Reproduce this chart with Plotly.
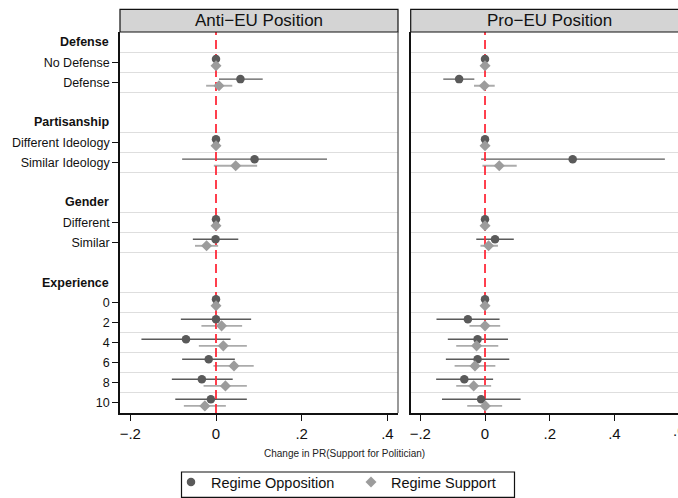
import plotly.graph_objects as go

# ---------------- data ----------------
groups = ["Defense", "Partisanship", "Gender", "Experience"]
items = [["No Defense", "Defense"],
         ["Different Ideology", "Similar Ideology"],
         ["Different", "Similar"],
         ["0", "2", "4", "6", "8", "10"]]

panels = ["Anti\u2212EU Position", "Pro\u2212EU Position"]
series = ["Regime Opposition", "Regime Support"]

# Anti-EU position
anti_opp_est = [0, 0.057, 0, 0.090, 0, -0.001, 0, 0.000, -0.070, -0.017, -0.033, -0.012]
anti_opp_lo  = [0, 0.007, 0, -0.079, 0, -0.054, 0, -0.082, -0.174, -0.079, -0.103, -0.095]
anti_opp_hi  = [0, 0.109, 0, 0.259, 0, 0.052, 0, 0.082, 0.034, 0.044, 0.039, 0.072]
anti_sup_est = [0, 0.007, 0, 0.046, 0, -0.022, 0, 0.013, 0.017, 0.042, 0.022, -0.026]
anti_sup_lo  = [0, -0.023, 0, -0.005, 0, -0.049, 0, -0.034, -0.040, -0.006, -0.029, -0.075]
anti_sup_hi  = [0, 0.038, 0, 0.096, 0, 0.005, 0, 0.061, 0.072, 0.088, 0.072, 0.023]

# Pro-EU position
pro_opp_est = [0, -0.080, 0, 0.271, 0, 0.031, 0, -0.053, -0.023, -0.023, -0.064, -0.012]
pro_opp_lo  = [0, -0.129, 0, -0.012, 0, -0.027, 0, -0.150, -0.115, -0.121, -0.151, -0.133]
pro_opp_hi  = [0, -0.033, 0, 0.556, 0, 0.089, 0, 0.045, 0.071, 0.075, 0.025, 0.110]
pro_sup_est = [0, -0.002, 0, 0.044, 0, 0.011, 0, 0.000, -0.026, -0.031, -0.035, 0.001]
pro_sup_lo  = [0, -0.034, 0, -0.008, 0, -0.014, 0, -0.048, -0.089, -0.094, -0.089, -0.055]
pro_sup_hi  = [0, 0.030, 0, 0.098, 0, 0.040, 0, 0.047, 0.041, 0.032, 0.019, 0.053]

x_tickvals = [-0.2, 0, 0.2, 0.4]
x_ticktext = ["\u2212.2", "0", ".2", ".4"]

# ---------------- layout helpers ----------------
W, H = 678, 498
ML, MT, MB = 0, 32, 85
PLOT_H = H - MT - MB
FONT = "Liberation Sans, Arial, Helvetica, sans-serif"

OPP_COL = "#5a5a5a"
SUP_COL = "#9c9c9c"
SUP_CI = "#ababab"
RED = "#ff2a3a"

# row layout: header row, item rows, blank row
header_rows, rows, labels, grid_y = [], [], [], []
r = 0
for g, its in zip(groups, items):
    header_rows.append(r)
    r += 1
    first = r
    for it in its:
        rows.append(r)
        labels.append(it)
        r += 1
    last = r - 1
    grid_y += [k + 0.5 for k in range(first - 1, last + 1)]
    r += 1
YR = [rows[-1] + 0.52, -0.52]

off = 0.165
y_opp = [v - off for v in rows]
y_sup = [v + off for v in rows]

dom1 = [120 / W, 398 / W]
dom2 = [410.7 / W, 1.0]
rng1 = [-0.224, 0.4247]
rng2 = [-0.2297, -0.2297 + (W - 410.7) / 323.5]

data = [
    (anti_opp_est, anti_opp_lo, anti_opp_hi, anti_sup_est, anti_sup_lo, anti_sup_hi),
    (pro_opp_est, pro_opp_lo, pro_opp_hi, pro_sup_est, pro_sup_lo, pro_sup_hi),
]

fig = go.Figure()
for p, (oe, ol, oh, se, sl, sh) in enumerate(data):
    xa = "x" if p == 0 else "x2"
    ya = "y" if p == 0 else "y2"
    # CI lines
    fig.add_trace(go.Scatter(
        x=oe, y=y_opp, xaxis=xa, yaxis=ya, mode="markers",
        marker=dict(size=2, opacity=0), showlegend=False, hoverinfo="skip",
        error_x=dict(type="data", symmetric=False,
                     array=[h - e for h, e in zip(oh, oe)],
                     arrayminus=[e - l for e, l in zip(oe, ol)],
                     width=0, thickness=1.4, color=OPP_COL)))
    fig.add_trace(go.Scatter(
        x=se, y=y_sup, xaxis=xa, yaxis=ya, mode="markers",
        marker=dict(size=2, opacity=0), showlegend=False, hoverinfo="skip",
        error_x=dict(type="data", symmetric=False,
                     array=[h - e for h, e in zip(sh, se)],
                     arrayminus=[e - l for e, l in zip(se, sl)],
                     width=0, thickness=1.9, color=SUP_CI)))
    # reference line at zero
    fig.add_trace(go.Scatter(
        x=[0, 0], y=YR, xaxis=xa, yaxis=ya, mode="lines",
        line=dict(color=RED, width=1.8, dash="9px,5px"),
        showlegend=False, hoverinfo="skip"))
    # point estimates
    fig.add_trace(go.Scatter(
        x=oe, y=y_opp, xaxis=xa, yaxis=ya, mode="markers", name=series[0],
        marker=dict(symbol="circle", size=8.5, color=OPP_COL, line=dict(width=0)),
        showlegend=(p == 0), legendrank=1))
    fig.add_trace(go.Scatter(
        x=se, y=y_sup, xaxis=xa, yaxis=ya, mode="markers", name=series[1],
        marker=dict(symbol="diamond", size=8.5, color=SUP_COL, line=dict(width=0)),
        showlegend=(p == 0), legendrank=2))

xcommon = dict(tickvals=x_tickvals, ticktext=x_ticktext, ticks="outside", ticklen=6,
               tickwidth=1.3, tickcolor="#111", showline=True, linewidth=1.6,
               linecolor="#111", showgrid=False, zeroline=False,
               tickfont=dict(size=15, color="#111", family=FONT))
ycommon = dict(range=YR, showline=True, linewidth=1.6, linecolor="#111",
               showgrid=False, zeroline=False,
               minor=dict(tickvals=grid_y, showgrid=True, gridcolor="#dedede",
                          gridwidth=1.3, ticks=""))

def py(px):  # pixel y -> paper y
    return (MT + PLOT_H - px) / PLOT_H

fig.update_layout(
    width=W, height=H,
    margin=dict(l=ML, r=0, t=MT, b=MB, pad=0, autoexpand=False),
    paper_bgcolor="white", plot_bgcolor="white",
    font=dict(family=FONT, color="#111"),
    xaxis=dict(domain=dom1, range=rng1, anchor="y", **xcommon),
    xaxis2=dict(domain=dom2, range=rng2, anchor="y2", **xcommon),
    yaxis=dict(anchor="x", tickvals=rows, ticktext=labels, ticks="outside",
               ticklen=6, tickwidth=1.3, tickcolor="#111",
               tickfont=dict(size=12.5, color="#111", family=FONT), **ycommon),
    yaxis2=dict(anchor="x2", showticklabels=False, ticks="", **ycommon),
    legend=dict(orientation="h", x=171 / W, xanchor="left",
                y=py(466), yanchor="top",
                bordercolor="rgba(0,0,0,0)", borderwidth=0, bgcolor="rgba(0,0,0,0)",
                font=dict(size=14.5, color="#111", family=FONT),
                entrywidth=135, itemwidth=30, tracegroupgap=0),
    showlegend=True,
)

shapes = []
# strips
for d in (dom1, [dom2[0], 689 / W]):
    shapes.append(dict(type="rect", xref="paper", yref="paper",
                       x0=d[0], x1=d[1], y0=py(32), y1=py(9.3),
                       fillcolor="#d4d4d4", line=dict(color="#111", width=1.2),
                       layer="above"))
# right border of left panel
shapes.append(dict(type="line", xref="paper", yref="paper",
                   x0=dom1[1], x1=dom1[1], y0=0, y1=1,
                   line=dict(color="#555", width=1.2), layer="above"))
# legend frame
shapes.append(dict(type="rect", xref="paper", yref="paper",
                   x0=181.5 / W, x1=514.5 / W, y0=py(497.3), y1=py(472),
                   line=dict(color="#111", width=1.2), fillcolor="rgba(0,0,0,0)"))
fig.update_layout(shapes=shapes)

ann = []
for d, t in zip((dom1, [dom2[0], 689 / W]), panels):
    ann.append(dict(text=t, xref="paper", yref="paper", x=(d[0] + d[1]) / 2,
                    y=py(20.8), xanchor="center", yanchor="middle", showarrow=False,
                    font=dict(size=17, color="#111", family=FONT)))
for g, hr in zip(groups, header_rows):
    ann.append(dict(text="<b>" + g + "</b>", xref="paper", yref="y", x=110.5 / W,
                    y=hr, xanchor="right", yanchor="middle", showarrow=False,
                    font=dict(size=12.5, color="#111", family=FONT)))
ann.append(dict(text="Change in PR(Support for Politician)", xref="paper", yref="paper",
                x=344 / W, y=py(453), xanchor="center", yanchor="middle",
                showarrow=False, font=dict(size=10, color="#222", family=FONT)))
# partly visible tick label of the right panel (cut by the window edge)
ann.append(dict(text=".6", xref="paper", yref="paper",
                x=(410.7 + (0.6 - rng2[0]) * 323.5) / W, y=py(431),
                xanchor="center", yanchor="middle", showarrow=False,
                font=dict(size=15, color="#111", family=FONT)))
fig.update_layout(annotations=ann)

fig.write_html("out.html")
